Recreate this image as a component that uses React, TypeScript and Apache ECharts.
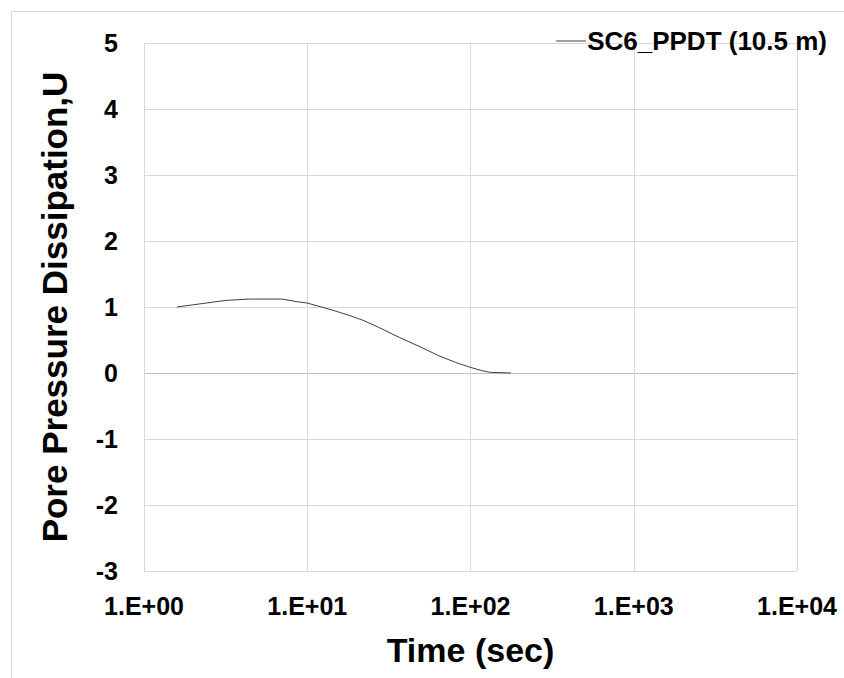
import React, { useEffect, useRef } from "react";
import * as echarts from "echarts";

const timeSec = [1.59, 3.17, 4.41, 7.03, 8.68, 10, 14.4, 18.2, 21.9, 26.4, 36.6, 50.8, 64.1, 81.1, 100, 117.7, 132.4, 176.6];
const dissipationU = [1.0, 1.1, 1.12, 1.12, 1.08, 1.06, 0.95, 0.87, 0.8, 0.71, 0.54, 0.38, 0.26, 0.16, 0.085, 0.035, 0.01, 0.0];
const seriesName = "SC6_PPDT (10.5 m)";
const yTicks = [-3, -2, -1, 0, 1, 2, 3, 4, 5];

const FONT = "'Liberation Sans', Arial, sans-serif";

export default function App() {
  const ref = useRef<HTMLDivElement>(null);
  useEffect(() => {
    if (!ref.current) return;
    const chart = echarts.init(ref.current, undefined, { renderer: "svg" });
    const splitColors = yTicks.map((v) => (v === 0 ? "#bfbfbf" : "#d9d9d9"));
    chart.setOption({
      animation: false,
      backgroundColor: "#ffffff",
      graphic: [
        {
          type: "rect",
          shape: { x: 11.5, y: 11.5, width: 900, height: 700 },
          style: { fill: "none", stroke: "#d9d9d9", lineWidth: 1 },
          silent: true,
        },
      ],
      legend: {
        right: 12,
        top: 23,
        icon: "path://M0,0 L30,0 L30,1 L0,1 Z",
        itemWidth: 30,
        itemHeight: 1,
        itemGap: 0,
        textStyle: { fontFamily: FONT, fontWeight: "bold", fontSize: 26, color: "#000", padding: [0, 0, 0, -4] },
        data: [{ name: seriesName, itemStyle: { color: "#404040" } }],
      },
      grid: { left: 144, right: 47, top: 43, bottom: 107, containLabel: false },
      xAxis: {
        type: "log",
        logBase: 10,
        min: 1,
        max: 10000,
        name: "Time (sec)",
        nameLocation: "middle",
        nameGap: 62,
        nameTextStyle: { fontFamily: FONT, fontWeight: "bold", fontSize: 34, color: "#000" },
        axisLine: { show: false },
        axisTick: { show: false },
        axisLabel: {
          fontFamily: FONT,
          fontWeight: "bold",
          fontSize: 25,
          color: "#000",
          margin: 22,
          formatter: (v: number) => {
            const e = Math.round(Math.log10(v));
            return "1.E+" + String(e).padStart(2, "0");
          },
        },
        splitLine: { show: true, lineStyle: { color: "#d9d9d9", width: 1 } },
        minorTick: { show: false },
      },
      yAxis: {
        type: "value",
        min: -3,
        max: 5,
        interval: 1,
        name: "Pore Pressure Dissipation,U",
        nameLocation: "middle",
        nameGap: 72,
        nameTextStyle: { fontFamily: FONT, fontWeight: "bold", fontSize: 35, color: "#000" },
        axisLine: { show: true, lineStyle: { color: "#d9d9d9", width: 1 } },
        axisTick: { show: false },
        axisLabel: { fontFamily: FONT, fontWeight: "bold", fontSize: 25, color: "#000", margin: 26 },
        splitLine: { show: true, lineStyle: { color: splitColors, width: 1 } },
      },
      series: [
        {
          name: seriesName,
          type: "line",
          data: timeSec.map((t, i) => [t, dissipationU[i]]),
          showSymbol: false,
          symbol: "none",
          smooth: false,
          lineStyle: { color: "#404040", width: 1 },
          itemStyle: { color: "#404040" },
        },
      ],
    });
    return () => chart.dispose();
  }, []);
  return <div ref={ref} style={{ position: "fixed", left: 0, top: 0, width: 844, height: 678 }} />;
}
